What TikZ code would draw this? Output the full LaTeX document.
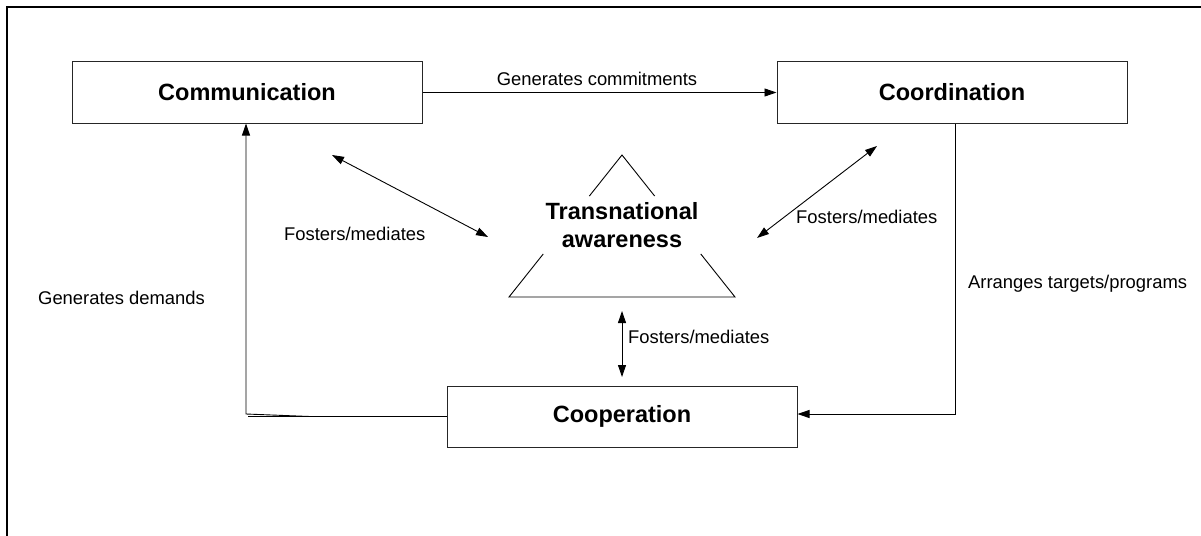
\documentclass[tikz,border=0pt]{standalone}
\usepackage{fontspec}
\setmainfont{Liberation Sans}
\usetikzlibrary{arrows.meta,calc}

\tikzset{
  box/.style={draw=black!85, line width=1pt, inner sep=0pt,
              minimum width=350pt, minimum height=61pt,
              font=\fontsize{23.5}{28}\selectfont\bfseries},
  lbl/.style={inner sep=0pt, font=\fontsize{18.4}{22}\selectfont},
  link/.style={line width=0.9pt, -{Triangle[length=12pt,width=8pt]}},
  bilink/.style={line width=0.9pt, {Triangle[length=12pt,width=8pt]}-{Triangle[length=12pt,width=8pt]}},
  plain/.style={line width=0.9pt},
}

\begin{document}
\begin{tikzpicture}[x=1pt,y=-1pt]
\useasboundingbox (0,0) rectangle (1201,535);

% frame
\draw[line width=1.2pt] (7,540) -- (7,7) -- (1210,7);

% activity boxes
\node[box] (comm)  at (247,92.5)  {Communication};
\node[box] (coord) at (952,92.5)  {Coordination};
\node[box] (coop)  at (622,416.5) {Cooperation};

% awareness triangle, opened where the title sits
\coordinate (apex) at (622,155);
\coordinate (bl) at (509,297);
\coordinate (br) at (735,297);
\draw[plain] ($(apex)!0.289!(bl)$) -- (apex) -- ($(apex)!0.289!(br)$);
\draw[plain] ($(apex)!0.697!(bl)$) -- (bl) -- (br) -- ($(apex)!0.697!(br)$);
\node[font=\fontsize{23.5}{28.5}\selectfont\bfseries, align=center, inner sep=0pt]
  (aware) at (622,225) {Transnational\\awareness};

% communication -> coordination
\draw[link] (comm.east) -- (coord.west);
\node[lbl, anchor=base] (lc) at (597,85) {Generates commitments};

% coordination -> cooperation
\coordinate (rc) at (955,414);
\draw[link] (coord.south -| rc) -- (rc) -- (rc -| coop.east);
\node[lbl, anchor=base west] (la) at (968,288) {Arranges targets/programs};

% cooperation -> communication
\coordinate (lc1) at (248,416.5);
\coordinate (lc2) at (310,416.5);
\coordinate (lcor) at (246,414);
\draw[plain] (coop.west) -- (lc1);
\draw[link] (lc2) -- (lcor) -- (lcor |- comm.south);
\node[lbl, anchor=base west] (ld) at (38,304) {Generates demands};

% fosters/mediates links
\coordinate (f1a) at (332,155);
\coordinate (f1b) at (488,237);
\draw[bilink] (f1a) -- (f1b);
\node[lbl, anchor=base west] (lf1) at (284,240) {Fosters/mediates};

\coordinate (f2a) at (757,238);
\coordinate (f2b) at (877,146);
\draw[bilink] (f2a) -- (f2b);
\node[lbl, anchor=base west] (lf2) at (796,223) {Fosters/mediates};

\coordinate (f3a) at (622,311);
\coordinate (f3b) at (622,377);
\draw[bilink] (f3a) -- (f3b);
\node[lbl, anchor=base west] (lf3) at (628,343) {Fosters/mediates};
\end{tikzpicture}
\end{document}
